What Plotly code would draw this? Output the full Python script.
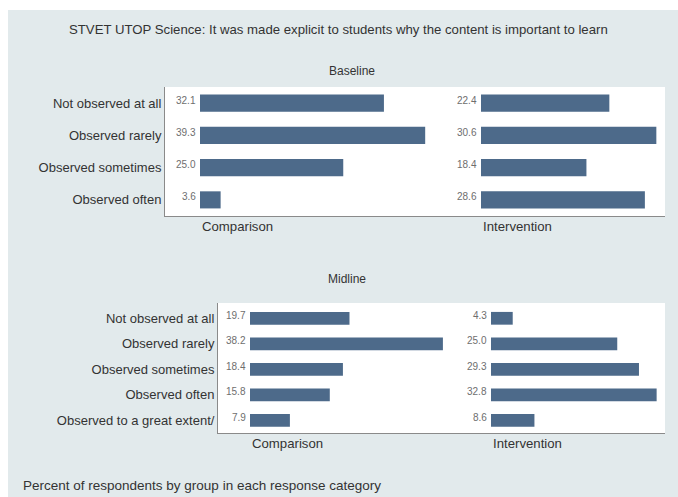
import plotly.graph_objects as go
from plotly.subplots import make_subplots

W, H = 678, 497

title = "STVET UTOP Science: It was made explicit to students why the content is important to learn"
footer = "Percent of respondents by group in each response category"
groups = ["Comparison", "Intervention"]

base_cats = ["Not observed at all", "Observed rarely", "Observed sometimes", "Observed often"]
base_comparison = [32.1, 39.3, 25.0, 3.6]
base_intervention = [22.4, 30.6, 18.4, 28.6]

mid_cats = ["Not observed at all", "Observed rarely", "Observed sometimes", "Observed often",
            "Observed to a great extent/"]
mid_comparison = [19.7, 38.2, 18.4, 15.8, 7.9]
mid_intervention = [4.3, 25.0, 29.3, 32.8, 8.6]

BG = "#e2eaec"
BAR = "#4d6a8a"
TXT = "#333333"
FONT = "Liberation Sans, Arial, sans-serif"


def px(x):
    return x / W


def py(y):
    return 1 - y / H


fig = make_subplots(rows=2, cols=2, horizontal_spacing=0, vertical_spacing=0)

# panel geometry in screen pixels: left axis, bar starts, split, right edge, top, bottom, px per unit
panels = [
    dict(row=1, cats=base_cats, vals=[base_comparison, base_intervention], left=165, starts=[200, 481],
         split=455, right=665, top=87, bottom=216, scale=5.73, bw=0.53, rng=[3.5, -0.5], head="Baseline",
         hx=352, hy=62),
    dict(row=2, cats=mid_cats, vals=[mid_comparison, mid_intervention], left=218, starts=[250, 491],
         split=470, right=665, top=303, bottom=433, scale=5.05, bw=0.5, rng=[4.5, -0.6], head="Midline",
         hx=347, hy=279),
]

shapes = [dict(type="rect", xref="paper", yref="paper", x0=px(8), x1=1, y0=0, y1=py(10),
               fillcolor=BG, line=dict(width=0), layer="below")]
annotations = [
    dict(text=title, x=px(338), y=py(30), xref="paper", yref="paper", showarrow=False,
         xanchor="center", yanchor="middle", font=dict(size=13.2, color=TXT)),
    dict(text=footer, x=px(21), y=py(485), xref="paper", yref="paper", showarrow=False,
         xanchor="left", yanchor="middle", font=dict(size=13.5, color=TXT)),
]

for p in panels:
    r = p["row"]
    shapes.append(dict(type="rect", xref="paper", yref="paper", x0=px(p["left"]), x1=px(p["right"]),
                       y0=py(p["bottom"]), y1=py(p["top"]), fillcolor="white", line=dict(width=0),
                       layer="below"))
    annotations.append(dict(text=p["head"], x=px(p["hx"]), y=py(p["hy"]), xref="paper", yref="paper",
                            showarrow=False, font=dict(size=12, color=TXT)))
    edges = [(p["left"], p["split"]), (p["split"], p["right"])]
    for c in range(2):
        vals = p["vals"][c]
        fig.add_trace(go.Bar(x=vals, y=p["cats"], orientation="h", marker_color=BAR,
                             marker_line_width=0, width=p["bw"], showlegend=False,
                             hoverinfo="x+y"), row=r, col=c + 1)
        x0, x1 = edges[c]
        s = p["starts"][c]
        xr = [-(s - x0) / p["scale"], (x1 - s) / p["scale"]]
        fig.update_xaxes(domain=[px(x0), px(x1)], range=xr, showgrid=False, zeroline=False,
                         showticklabels=False, showline=True, linecolor="#8a8a8a", linewidth=1,
                         row=r, col=c + 1)
        fig.update_yaxes(domain=[py(p["bottom"]), py(p["top"])], range=p["rng"], showgrid=False,
                         zeroline=False, showticklabels=(c == 0), showline=(c == 0),
                         linecolor="#8a8a8a", linewidth=1, ticks="", ticklabelstandoff=0,
                         tickfont=dict(size=13, color=TXT), row=r, col=c + 1)
        ax = fig.get_subplot(r, c + 1)
        xref = ax.xaxis.plotly_name.replace("axis", "")
        yref = ax.yaxis.plotly_name.replace("axis", "")
        for cat, v in zip(p["cats"], vals):
            annotations.append(dict(text=f"{v:.1f}", x=0, y=cat, xref=xref, yref=yref, showarrow=False,
                                    xanchor="right", yanchor="middle", xshift=-2, yshift=3,
                                    font=dict(size=10, color="#6e6e6e")))
        annotations.append(dict(text=groups[c], x=0, y=py(p["bottom"] + 10), xref=xref, yref="paper",
                                showarrow=False, xanchor="left", yanchor="middle",
                                font=dict(size=13.2, color=TXT)))

fig.update_layout(
    width=W, height=H,
    margin=dict(l=0, r=0, t=0, b=0),
    paper_bgcolor="white",
    plot_bgcolor="rgba(0,0,0,0)",
    font=dict(family=FONT, size=12, color=TXT),
    shapes=shapes,
    annotations=annotations,
)

# drop the page's default body margin so the figure fills the window exactly
fig.write_html("out.html", config={"displayModeBar": False},
               post_script="document.body.style.margin='0';document.body.style.overflow='hidden';")
